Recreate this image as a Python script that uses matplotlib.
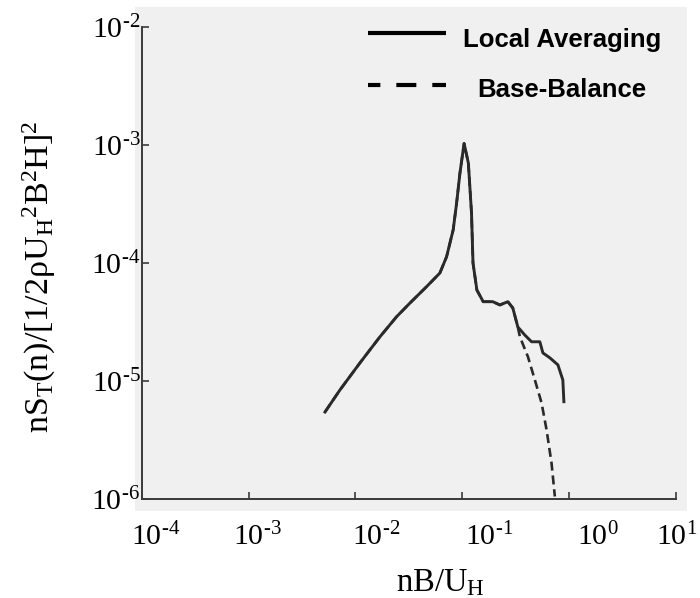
import matplotlib
matplotlib.use("Agg")
import matplotlib.pyplot as plt
from matplotlib.patches import Rectangle
from matplotlib.transforms import blended_transform_factory
from matplotlib.ticker import FixedLocator, NullLocator, NullFormatter, FixedFormatter

plt.rcParams["font.family"] = ["Liberation Serif", "DejaVu Serif"]
plt.rcParams["mathtext.fontset"] = "custom"
plt.rcParams["mathtext.rm"] = "Liberation Serif"
plt.rcParams["mathtext.it"] = "Liberation Serif:italic"
plt.rcParams["mathtext.bf"] = "Liberation Serif:bold"
plt.rcParams["lines.scale_dashes"] = False

# Torsional moment spectrum: local averaging vs. base-balance measurement
freq_local = [5.19e-3, 7.16e-3, 1.10e-2, 1.69e-2, 2.43e-2, 3.24e-2, 4.63e-2, 6.17e-2,
              7.13e-2, 8.22e-2, 8.85e-2, 9.51e-2, 0.104, 0.114, 0.122, 0.126,
              0.137, 0.157, 0.193, 0.225, 0.267, 0.297, 0.331, 0.385, 0.445,
              0.532, 0.568, 0.661, 0.785, 0.873, 0.893]
spec_local = [5.46e-6, 8.39e-6, 1.42e-5, 2.36e-5, 3.51e-5, 4.58e-5, 6.30e-5, 8.22e-5,
              1.13e-4, 1.91e-4, 3.22e-4, 5.79e-4, 1.03e-3, 7.03e-4, 2.65e-4, 1.00e-4,
              5.90e-5, 4.70e-5, 4.70e-5, 4.41e-5, 4.70e-5, 4.16e-5, 2.87e-5, 2.45e-5, 2.15e-5,
              2.15e-5, 1.73e-5, 1.57e-5, 1.37e-5, 1.02e-5, 6.68e-6]

freq_base = [5.19e-3, 7.16e-3, 1.10e-2, 1.69e-2, 2.43e-2, 3.24e-2, 4.63e-2, 6.17e-2,
             7.13e-2, 8.22e-2, 8.85e-2, 9.51e-2, 0.104, 0.114, 0.122, 0.126,
             0.137, 0.157, 0.193, 0.225, 0.267, 0.297, 0.331, 0.346, 0.411,
             0.478, 0.552, 0.615, 0.684, 0.735]
spec_base = [5.46e-6, 8.39e-6, 1.42e-5, 2.36e-5, 3.51e-5, 4.58e-5, 6.30e-5, 8.22e-5,
             1.13e-4, 1.91e-4, 3.22e-4, 5.79e-4, 1.03e-3, 7.03e-4, 2.65e-4, 1.00e-4,
             5.90e-5, 4.70e-5, 4.70e-5, 4.41e-5, 4.70e-5, 4.16e-5, 2.87e-5, 2.37e-5, 1.61e-5,
             1.02e-5, 6.52e-6, 3.85e-6, 2.02e-6, 1.05e-6]

x_ticks = [1e-4, 1e-3, 1e-2, 1e-1, 1e0, 1e1]
x_tick_text = [r"$10^{\text{-}4}$", r"$10^{\text{-}3}$", r"$10^{\text{-}2}$",
               r"$10^{\text{-}1}$", r"$10^{0}$", r"$10^{1}$"]
# label anchors sit a little to the right of their decade marks
x_tick_text_at = [1.36e-4, 1.2e-3, 1.55e-2, 0.178, 1.85, 10.2]

y_ticks = [1e-6, 1e-5, 1e-4, 1e-3, 1e-2]
y_tick_text = [r"$10^{\text{-}6}$", r"$10^{\text{-}5}$", r"$10^{\text{-}4}$",
               r"$10^{\text{-}3}$", r"$10^{\text{-}2}$"]

legend_entries = ["Local Averaging", "Base-Balance"]

ink = "#2a2a2a"

fig = plt.figure(figsize=(7.0, 5.98), dpi=100)
fig.patch.set_facecolor("white")

# light grey paper behind the plot
fig.add_artist(Rectangle((135 / 700, 1 - 511 / 598), (687 - 135) / 700, (511 - 7) / 598,
                         transform=fig.transFigure, facecolor="#f0f0f0",
                         edgecolor="none", zorder=0))

ax = fig.add_axes([141.7 / 700, 1 - 499 / 598, 534.3 / 700, 472 / 598])
ax.set_facecolor("none")
ax.set_xscale("log")
ax.set_yscale("log")
ax.set_xlim(1e-4, 1e1)
ax.set_ylim(1e-6, 1e-2)

ax.plot(freq_base, spec_base, color=ink, lw=1.9, linestyle=(0, (6.5, 3.5)),
        solid_capstyle="butt", zorder=2)
ax.plot(freq_local, spec_local, color=ink, lw=2.1, zorder=3)

for side in ("top", "right"):
    ax.spines[side].set_visible(False)
for side in ("left", "bottom"):
    ax.spines[side].set_color("#3a3a3a")
    ax.spines[side].set_linewidth(1.4)

ax.xaxis.set_major_locator(FixedLocator(x_ticks))
ax.xaxis.set_major_formatter(NullFormatter())
ax.xaxis.set_minor_locator(NullLocator())
ax.yaxis.set_major_locator(FixedLocator(y_ticks))
ax.yaxis.set_major_formatter(FixedFormatter(y_tick_text))
ax.yaxis.set_minor_locator(NullLocator())
ax.tick_params(axis="both", direction="in", length=5, width=1.2, color="#3a3a3a",
               labelsize=21.5, labelcolor="black")
ax.tick_params(axis="y", pad=1)

xt = blended_transform_factory(ax.transData, ax.transAxes)
for pos, txt in zip(x_tick_text_at, x_tick_text):
    ax.text(pos, -0.0975, txt, transform=xt, ha="center", va="baseline",
            fontsize=21.5, clip_on=False)

ax.set_xlabel(r"$\mathrm{nB/U_H}$", fontsize=23.5)
ax.xaxis.set_label_coords(0.56, -0.178)
ax.xaxis.label.set_va("center")
ax.set_ylabel(r"$\mathrm{nS_T(n)/[1/2\rho U_H{}^2B^2H]^2}$", fontsize=24.5)
ax.yaxis.set_label_coords(-0.192, 0.47)
ax.yaxis.label.set_va("center")

# legend drawn as line samples with bold captions
styles = ["-", (5.5, (14.4, 11.5))]
line_y = [0.987, 0.877]
text_x = [0.6005, 0.6285]
text_y = [0.958, 0.852]
for name, ls, ly, tx, ty in zip(legend_entries, styles, line_y, text_x, text_y):
    ax.plot([0.4235, 0.5695], [ly, ly], transform=ax.transAxes, color="black",
            lw=3.0, linestyle=ls, solid_capstyle="butt", dash_capstyle="butt",
            clip_on=False)
    ax.text(tx, ty, name, transform=ax.transAxes, ha="left", va="baseline",
            fontsize=18.5, fontweight="bold", family=["Liberation Sans", "DejaVu Sans"])

fig.savefig("out.png", dpi=100)
